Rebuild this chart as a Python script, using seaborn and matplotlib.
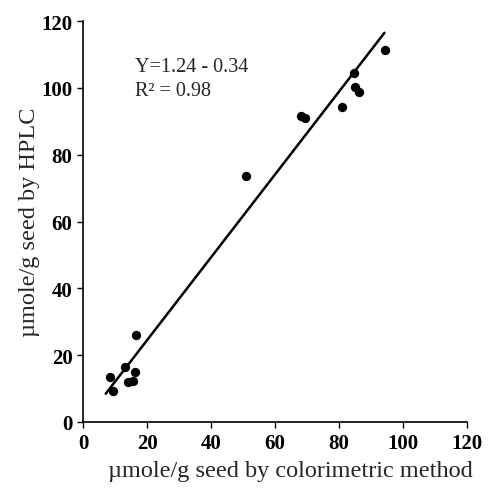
import numpy as np
import pandas as pd
import matplotlib
matplotlib.use("Agg")
import matplotlib.pyplot as plt
import seaborn as sns

# values
colorimetric = [8.4, 9.3, 13.1, 14.2, 15.7, 16.3, 16.7, 50.9, 68.0, 69.4, 81.0, 84.7, 85.0, 86.3, 94.4]
hplc = [13.4, 9.4, 16.4, 11.9, 12.4, 14.9, 26.1, 73.6, 91.5, 90.9, 94.3, 104.5, 100.3, 98.8, 111.4]

# fitted line as printed on the chart: Y = 1.24 X - 0.34
slope = 1.24
intercept = -0.34
line_x = [7.1, 94.2]

xticks = [0, 20, 40, 60, 80, 100, 120]
yticks = [0, 20, 40, 60, 80, 100, 120]

df = pd.DataFrame({'x': colorimetric, 'y': hplc})
fit = pd.DataFrame({'x': line_x, 'y': [slope * v + intercept for v in line_x]})

sns.set_style("ticks")
plt.rcParams['font.family'] = ['Liberation Serif', 'DejaVu Serif']

fig = plt.figure(figsize=(4.91, 4.89), dpi=100)
ax = fig.add_axes([83 / 491, 1 - 423 / 489, 384 / 491, 401 / 489])

sns.lineplot(data=fit, x='x', y='y', color='black', lw=1.8, ax=ax)
sns.scatterplot(data=df, x='x', y='y', color='black', s=45, edgecolor='black', linewidth=0, ax=ax)

ax.set_xlim(0, 120)
ax.set_ylim(0, 120)
ax.set_xticks(xticks)
ax.set_yticks(yticks)
ax.tick_params(labelsize=15, length=4, width=1, color='black', labelcolor='black', direction='out')
ax.tick_params(axis='x', pad=4)
for lab in ax.get_xticklabels() + ax.get_yticklabels():
    lab.set_fontweight('bold')
sns.despine(ax=ax)
for s in ['left', 'bottom']:
    ax.spines[s].set_color('black')
    ax.spines[s].set_linewidth(1.2)

ax.set_xlabel('µmole/g seed by colorimetric method', fontsize=17.5, labelpad=5)
ax.xaxis.label.set_x(0.54)
ax.set_ylabel('µmole/g seed by HPLC', fontsize=17.5, labelpad=1)

ax.text(16.3, 105.0, 'Y=1.24 - 0.34', fontsize=14.5)
ax.text(16.3, 98.0, 'R² = 0.98', fontsize=14.5)

plt.savefig('out.png', dpi=100)
